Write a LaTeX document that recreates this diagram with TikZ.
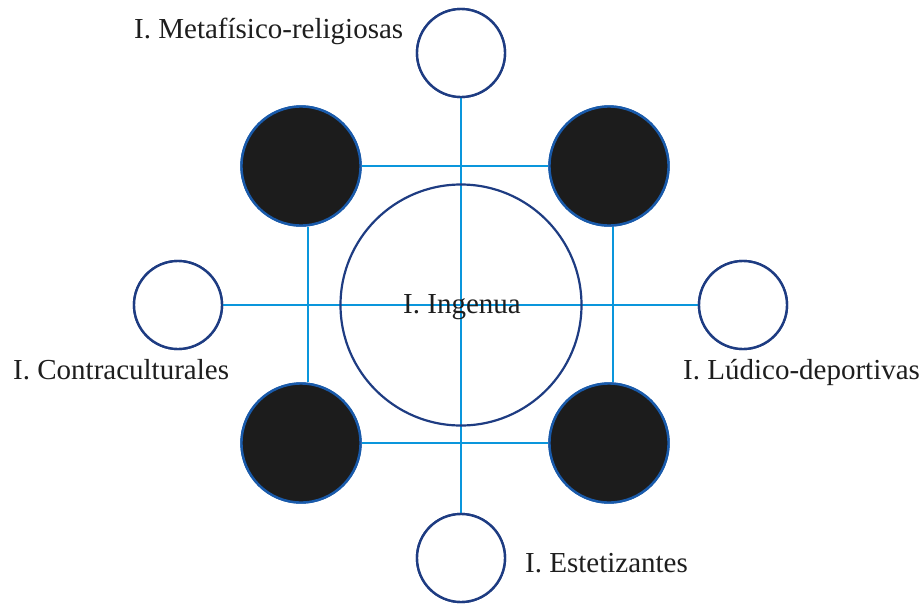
\documentclass[tikz,border=0pt]{standalone}
\usepackage{fontspec}
\setmainfont{Liberation Serif}
\definecolor{linkblue}{RGB}{10,150,220}
\definecolor{navy}{RGB}{30,60,130}
\definecolor{rimblue}{RGB}{25,90,170}
\definecolor{inkgray}{RGB}{30,30,30}
\definecolor{darkfill}{RGB}{28,28,28}
\begin{document}
\begin{tikzpicture}[x=1pt,y=-1pt,
  link/.style={draw=linkblue,line width=2pt},
  smallc/.style={circle,draw=navy,line width=2.4pt,fill=white,minimum size=88pt,inner sep=0pt},
  darkc/.style={circle,draw=rimblue,line width=2.4pt,fill=darkfill,minimum size=119pt,inner sep=0pt},
  bigc/.style={circle,draw=navy,line width=2.2pt,minimum size=241pt,inner sep=0pt},
  lbl/.style={text=inkgray,font=\fontsize{29}{34}\selectfont,inner sep=0pt,anchor=base west}]
\useasboundingbox (0,0) rectangle (923,603);
% node positions
\coordinate (c0) at (461,305);
\node[smallc] (top) at (461,53) {};
\node[smallc] (bot) at (461,558) {};
\node[smallc] (lft) at (178,305) {};
\node[smallc] (rgt) at (743,305) {};
\node[darkc] (tl) at (301,166) {};
\node[darkc] (tr) at (609,166) {};
\node[darkc] (bl) at (301,443) {};
\node[darkc] (br) at (609,443) {};
% connectors (behind circles)
\begin{scope}[on background layer/.try]
\end{scope}
\draw[link] (top.south) -- (bot.north);
\draw[link] (lft.east) -- (rgt.west);
\draw[link] (tl.east) -- (tr.west);
\draw[link] (bl.east) -- (br.west);
\draw[link] ([xshift=7pt]tl.south) -- ([xshift=7pt]bl.north);
\draw[link] ([xshift=4pt]tr.south) -- ([xshift=4pt]br.north);
% redraw circles above connectors
\node[smallc] at (top) {};
\node[smallc] at (bot) {};
\node[smallc] at (lft) {};
\node[smallc] at (rgt) {};
\node[darkc] at (tl) {};
\node[darkc] at (tr) {};
\node[darkc] at (bl) {};
\node[darkc] at (br) {};
\node[bigc] (mid) at (c0) {};
% labels
\node[lbl] (lmeta) at (134,38.3) {I. Metafísico-religiosas};
\node[lbl] (lcontra) at (13,379.3) {I. Contraculturales};
\node[lbl] (lludico) at (683,379.3) {I. Lúdico-deportivas};
\node[lbl] (lestet) at (525,572.3) {I. Estetizantes};
\node[lbl] (lingen) at (403,313.3) {I. Ingenua};
\end{tikzpicture}
\end{document}
